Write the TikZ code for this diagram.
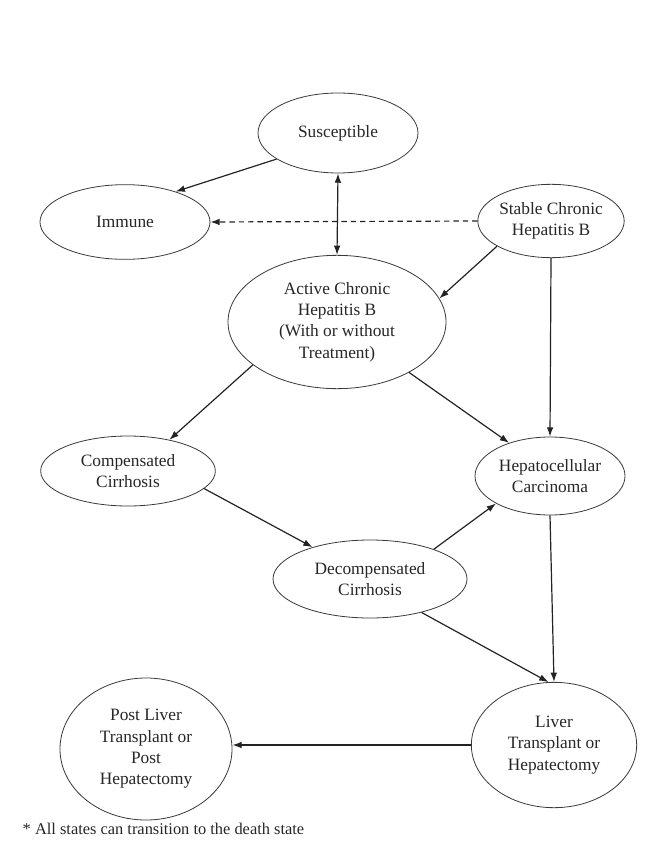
\documentclass[tikz,border=0pt]{standalone}
\usepackage{fontspec}
\setmainfont{Liberation Serif}
\usepackage{tikz}
\usetikzlibrary{arrows.meta,shapes.geometric}
\definecolor{colLine}{RGB}{35,35,35}

\begin{document}
\begin{tikzpicture}[x=0.75pt, y=-0.75pt, >={Latex[length=7pt,width=5pt]},
    every node/.style={font=\fontsize{13pt}{16pt}\selectfont, text=black!85},
    state/.style={ellipse, draw=colLine!90, line width=0.6pt, inner sep=0pt, align=center},
    trans/.style={->, colLine, line width=0.9pt}]
      \useasboundingbox (0,0) rectangle (653,848);
      % states
      \node[state, minimum width=120pt, minimum height=60pt] (sus) at (338,133) {Susceptible};
      \node[state, minimum width=127.5pt, minimum height=56pt] (imm) at (125,222) {Immune};
      \node[state, minimum width=102pt, minimum height=55pt] (stab) at (551,221) {Stable Chronic\\Hepatitis B};
      \node[state, minimum width=163.5pt, minimum height=100pt] (act) at (337,322) {Active Chronic\\Hepatitis B\\(With or without\\Treatment)};
      \node[state, minimum width=131pt, minimum height=52.5pt] (comp) at (128,471) {Compensated\\Cirrhosis};
      \node[state, minimum width=112.5pt, minimum height=58.5pt] (hep) at (550,476) {Hepatocellular\\Carcinoma};
      \node[state, minimum width=145.5pt, minimum height=58.5pt] (dec) at (370,579) {Decompensated\\Cirrhosis};
      \node[state, minimum width=124pt, minimum height=94pt] (liv) at (554,745) {Liver\\Transplant or\\Hepatectomy};
      \node[state, minimum width=129pt, minimum height=106.5pt] (post) at (146,749) {Post Liver\\Transplant or\\Post\\Hepatectomy};
      % transitions
      \draw[trans] (sus.203) -- (imm.31);
      \draw[trans, <->] (sus.south) -- (act.north);
      \draw[trans, dash pattern=on 4pt off 3pt] (stab.west) -- (imm.east);
      \draw[trans] (stab.205) -- (act.13);
      \draw[trans] (stab.south) -- (hep.north);
      \draw[trans] (act.207) -- (comp.37);
      \draw[trans] (act.325) -- (hep.141);
      \draw[trans] (comp.347) -- (dec.151);
      \draw[trans] (dec.25) -- (hep.207);
      \draw[trans] (hep.south) -- (liv.north);
      \draw[trans] (dec.327) -- (liv.95);
      \draw[trans] (liv.west) -- (liv.west -| post.east);
      % footnote
      \node[anchor=west, font=\fontsize{12.3pt}{15pt}\selectfont] (note) at (18,829) {* All states can transition to the death state};
\end{tikzpicture}
\end{document}
